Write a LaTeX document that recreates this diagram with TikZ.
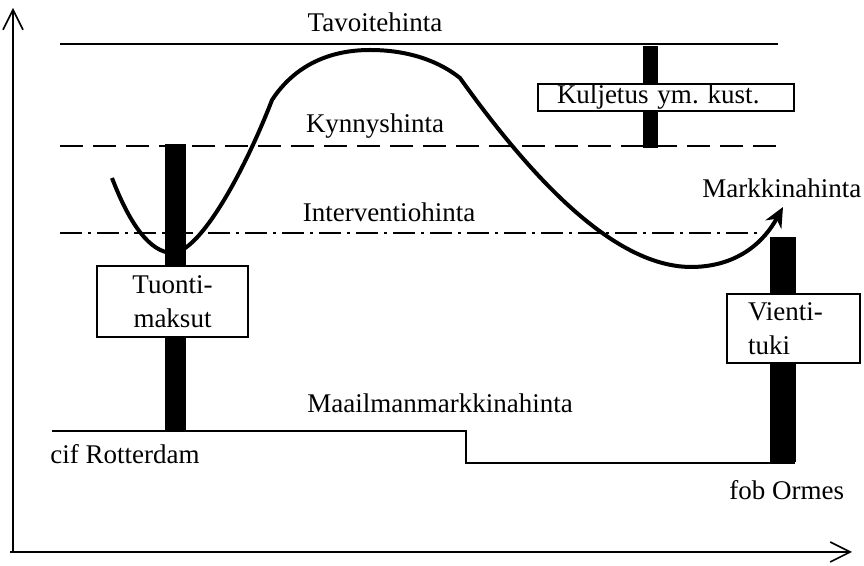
\documentclass[tikz,border=0pt]{standalone}
\usepackage{fontspec}
\setmainfont{Liberation Serif}
\usepackage{tikz}
\usetikzlibrary{arrows.meta}
\usetikzlibrary{positioning}
\tikzstyle{priceline}=[line width=0.6pt]
\tikzstyle{curve}=[line width=2pt]
\tikzstyle{bar}=[fill=black]
\tikzstyle{feebox}=[draw,fill=white,line width=0.6pt,inner sep=0pt]
\tikzstyle{lbl}=[inner sep=0pt,anchor=base]

\begin{document}
\begin{tikzpicture}[x=0.5pt,y=-0.5pt,font=\fontsize{13.5pt}{17pt}\selectfont]
\useasboundingbox (0,0) rectangle (864,566);
% axes
\coordinate (o) at (13,552);
\coordinate (ytop) at (13,8);
\coordinate (xstart) at (10,552);
\coordinate (xend) at (852,552);
\draw[line width=0.8pt,-{Straight Barb[length=10pt,width=10pt]}] (o) -- (ytop);
\draw[line width=0.8pt,-{Straight Barb[length=10pt,width=10pt]}] (xstart) -- (xend);
% price levels
\draw[priceline] (60,44) -- (778,44);
\draw[priceline,dash pattern=on 11.5pt off 5pt] (60,146) -- (778,146);
\draw[priceline,dash pattern=on 11pt off 3pt on 1.5pt off 3pt] (60,233) -- (763,233);
\draw[priceline] (52,431) -- (466,431) -- (466,463) -- (795,463);
\node[lbl] (tavoite) at (375,32) {Tavoitehinta};
\node[lbl] (kynnys) at (375,133) {Kynnyshinta};
\node[lbl] (interventio) at (389,222) {Interventiohinta};
\node[lbl,anchor=base west] (maailma) at (307,413) {Maailmanmarkkinahinta};
\node[lbl,anchor=base west] (cif) at (50,464) {cif Rotterdam};
\node[lbl,anchor=base west] (fob) at (729,500) {fob Ormes};
\node[lbl,anchor=base west] (markkina) at (702,198) {Markkinahinta};
% bars
\fill[bar] (165,144) rectangle (186,431);
\fill[bar] (643,46) rectangle (658,148);
\fill[bar] (770,237) rectangle (796,462);
\node[feebox,minimum width=75.5pt,minimum height=35.5pt,align=center] (tuonti) at (172.5,301.5) {Tuonti-\\maksut};
\node[feebox,minimum height=34.5pt,text width=45.5pt,inner xsep=10.5pt,align=left] (vienti) at (793.5,328.5) {Vienti-\\tuki};
\node[feebox,minimum height=13.5pt,text width=109pt,inner xsep=9.5pt,align=left] (kuljetus) at (666,97.5) {Kuljetus ym.\ kust.};
% market price
\draw[curve,-{Stealth[length=10pt,width=9pt]}] (112,178) .. controls (130,225) and (150,252) .. (172,253)
  .. controls (200,253) and (245,170) .. (272,100)
  .. controls (295,65) and (330,50) .. (370,50)
  .. controls (410,50) and (440,62) .. (460,78)
  .. controls (540,190) and (620,268) .. (693,267)
  .. controls (740,266) and (765,240) .. (783,207);
\end{tikzpicture}
\end{document}
